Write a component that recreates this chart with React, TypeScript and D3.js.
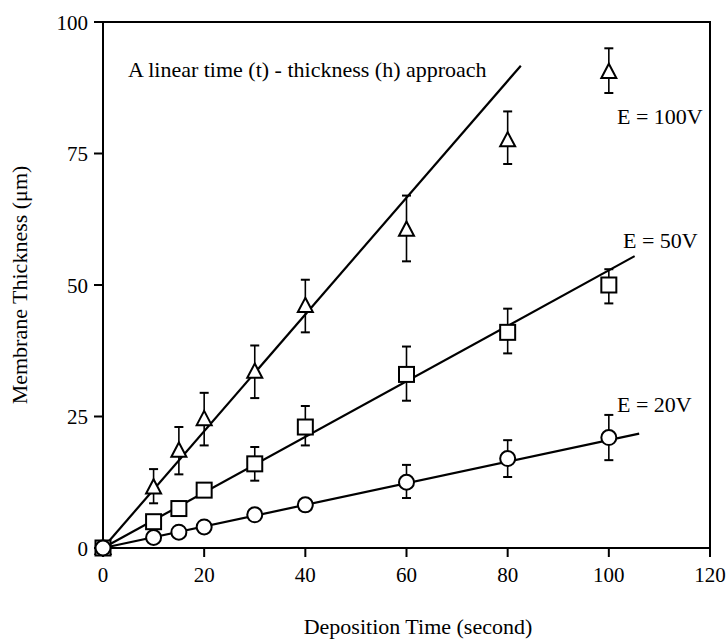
import React from "react";
import * as d3 from "d3";

const times = [0, 10, 15, 20, 30, 40, 60, 80, 100];
const h20 = [0, 2, 3, 4, 6.3, 8.2, 12.5, 17, 21];
const h50 = [0, 5, 7.5, 11, 16, 23, 33, 41, 50];
const h100 = [0, 11.5, 18.5, 24.5, 33.5, 46, 60.5, 77.5, 90.5];
// error bars [low, high] or null
const err20: ([number, number] | null)[] = [null, null, null, null, null, null, [9.5, 15.8], [13.5, 20.5], [16.7, 25.3]];
const err50: ([number, number] | null)[] = [null, null, null, null, [12.8, 19.2], [19.5, 27], [28, 38.3], [37, 45.5], [46.5, 53]];
const err100: ([number, number] | null)[] = [null, [8.5, 15], [14, 23], [19.5, 29.5], [28.5, 38.5], [41, 51], [54.5, 67], [73, 83], [86.5, 95]];
// fitted lines: x end and slope
const fits = [
  { end: 106, slope: 0.205 },
  { end: 105.1, slope: 0.528 },
  { end: 82.6, slope: 1.11 },
];
const xTicks = [0, 20, 40, 60, 80, 100, 120];
const yTicks = [0, 25, 50, 75, 100];

const FONT = "'Liberation Serif', 'Times New Roman', serif";

export default function App() {
  const x = d3.scaleLinear().domain([0, 120]).range([103, 710]);
  const y = d3.scaleLinear().domain([0, 100]).range([548, 22]);
  const line = d3.line<[number, number]>().x((d) => x(d[0])).y((d) => y(d[1]));

  const errBars = (errs: ([number, number] | null)[], key: string) =>
    errs.map((e, i) =>
      e ? (
        <g key={key + i} stroke="#000" strokeWidth={1.6}>
          <line x1={x(times[i])} x2={x(times[i])} y1={y(e[0])} y2={y(e[1])} />
          <line x1={x(times[i]) - 4.5} x2={x(times[i]) + 4.5} y1={y(e[0])} y2={y(e[0])} strokeWidth={2} />
          <line x1={x(times[i]) - 4.5} x2={x(times[i]) + 4.5} y1={y(e[1])} y2={y(e[1])} strokeWidth={2} />
        </g>
      ) : null
    );

  const tri = (cx: number, cy: number) => {
    const s = 7.5;
    return `M${cx},${cy - s * 1.1}L${cx + s},${cy + s * 0.8}L${cx - s},${cy + s * 0.8}Z`;
  };

  return (
    <svg width={728} height={639} style={{ display: "block", position: "absolute", left: 0, top: 0, background: "#fff" }}>
      <rect x={0} y={0} width={728} height={639} fill="#fff" />
      {/* frame */}
      <rect x={x(0)} y={y(100)} width={x(120) - x(0)} height={y(0) - y(100)} fill="none" stroke="#000" strokeWidth={2} />
      {/* ticks */}
      {xTicks.map((t) => (
        <g key={"xt" + t}>
          <line x1={x(t)} x2={x(t)} y1={y(0)} y2={y(0) + 9} stroke="#000" strokeWidth={2} />
          <text x={x(t)} y={y(0) + 34} textAnchor="middle" fontFamily={FONT} fontSize={21}>{t}</text>
        </g>
      ))}
      {yTicks.map((t) => (
        <g key={"yt" + t}>
          <line x1={x(0) - 9} x2={x(0)} y1={y(t)} y2={y(t)} stroke="#000" strokeWidth={2} />
          <text x={x(0) - 15} y={y(t) + 7.5} textAnchor="end" fontFamily={FONT} fontSize={21}>{t}</text>
        </g>
      ))}
      {/* fit lines */}
      {fits.map((f, i) => (
        <path key={"fit" + i} d={line([[0, 0], [f.end, f.end * f.slope]]) || ""} fill="none" stroke="#000" strokeWidth={2.2} />
      ))}
      {errBars(err20, "e20")}
      {errBars(err50, "e50")}
      {errBars(err100, "e100")}
      {/* markers */}
      {times.map((t, i) => (
        <path key={"tr" + i} d={tri(x(t), y(h100[i]))} fill="#fff" stroke="#000" strokeWidth={2} />
      ))}
      {times.map((t, i) => (
        <rect key={"sq" + i} x={x(t) - 7.5} y={y(h50[i]) - 7.5} width={15} height={15} fill="#fff" stroke="#000" strokeWidth={2} />
      ))}
      {times.map((t, i) => (
        <circle key={"ci" + i} cx={x(t)} cy={y(h20[i])} r={7.5} fill="#fff" stroke="#000" strokeWidth={2} />
      ))}
      {/* annotations */}
      <text x={128} y={77} fontFamily={FONT} fontSize={22}>A linear time (t) - thickness (h) approach</text>
      <text x={617} y={124} fontFamily={FONT} fontSize={22}>E = 100V</text>
      <text x={623} y={248} fontFamily={FONT} fontSize={22}>E = 50V</text>
      <text x={617} y={412} fontFamily={FONT} fontSize={22}>E = 20V</text>
      {/* axis titles */}
      <text x={418} y={634} textAnchor="middle" fontFamily={FONT} fontSize={22}>Deposition Time (second)</text>
      <text transform={`translate(27,285) rotate(-90)`} textAnchor="middle" fontFamily={FONT} fontSize={22}>Membrane Thickness (μm)</text>
    </svg>
  );
}
